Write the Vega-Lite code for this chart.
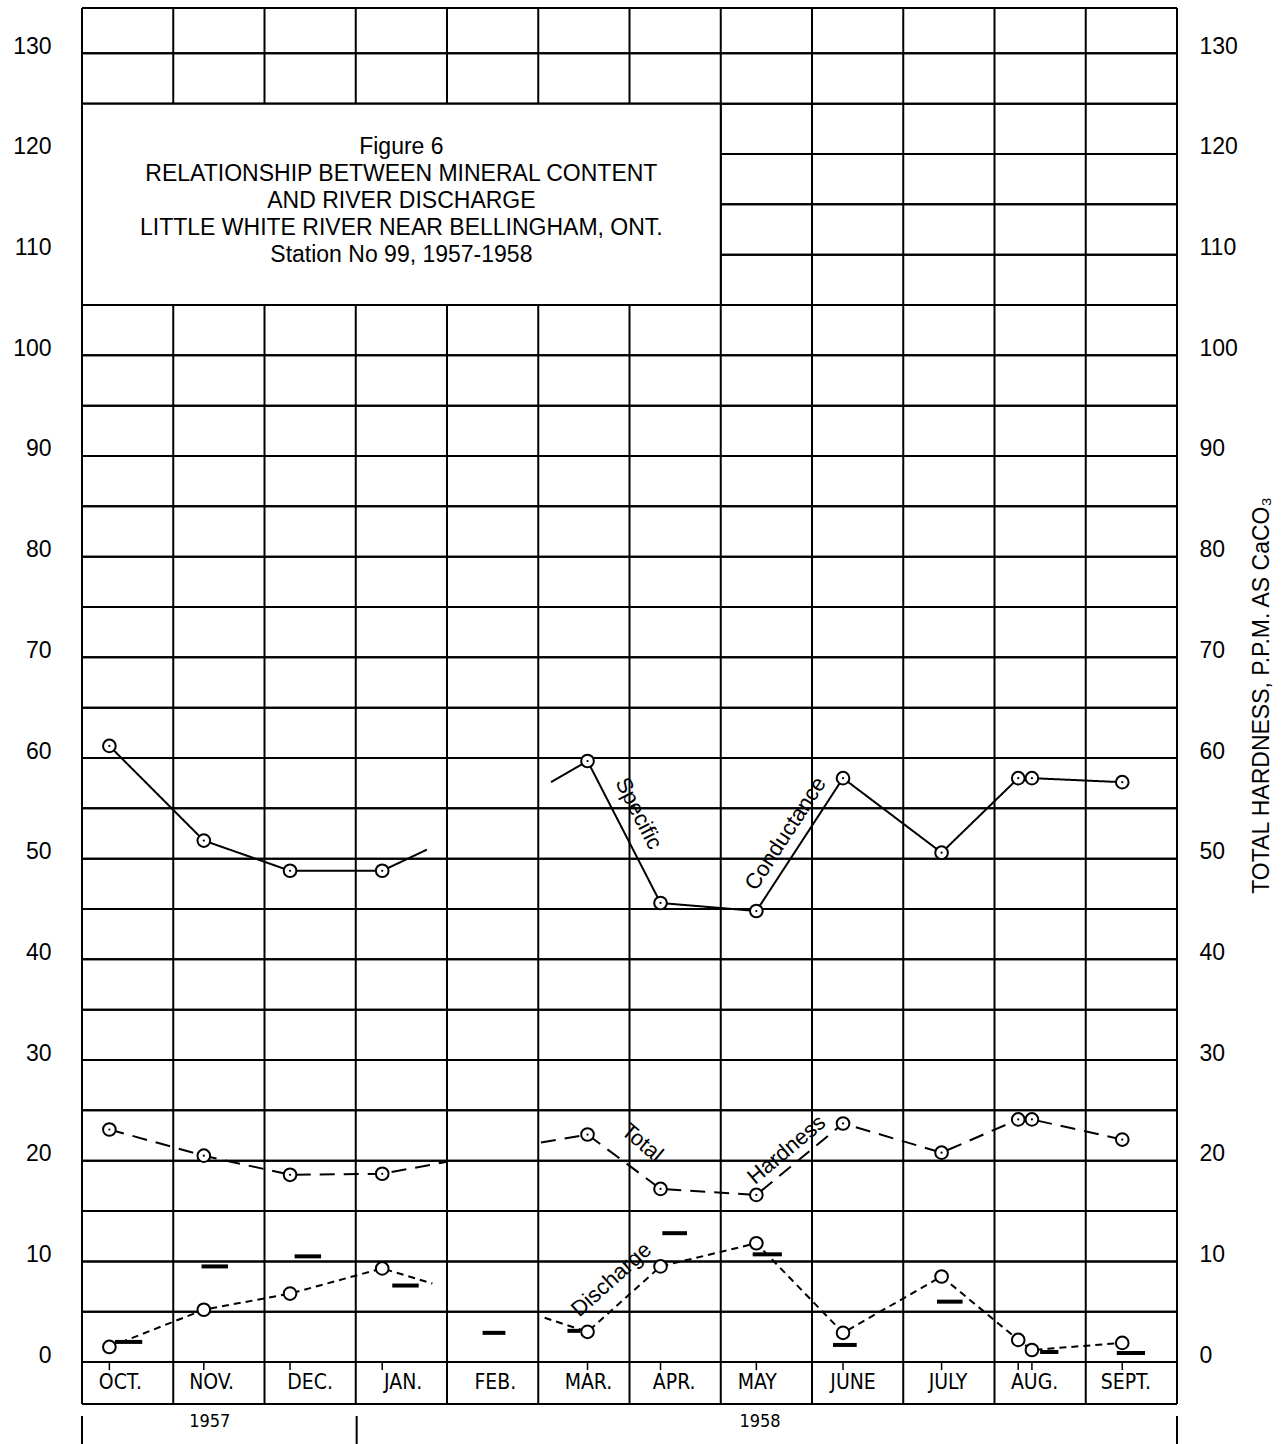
{
  "$schema": "https://vega.github.io/schema/vega-lite/v6.json",
  "width": 1095,
  "height": 1437,
  "autosize": {"type": "none"},
  "padding": {"left": 82, "top": 7, "right": 108, "bottom": 0},
  "background": "white",
  "config": {"view": {"stroke": null}, "font": "Liberation Sans"},
  "resolve": {"axis": {"y": "independent"}},
  "datasets": {
    "hlines": [
      {"v": -4.17}, {"v": 0}, {"v": 5}, {"v": 10}, {"v": 15}, {"v": 20}, {"v": 25}, {"v": 30}, {"v": 35}, {"v": 40},
      {"v": 45}, {"v": 50}, {"v": 55}, {"v": 60}, {"v": 65}, {"v": 70}, {"v": 75}, {"v": 80}, {"v": 85}, {"v": 90},
      {"v": 95}, {"v": 100}, {"v": 105}, {"v": 110}, {"v": 115}, {"v": 120}, {"v": 125}, {"v": 130}, {"v": 134.5}
    ],
    "vlines": [
      {"m": 0}, {"m": 1}, {"m": 2}, {"m": 3}, {"m": 4}, {"m": 5}, {"m": 6},
      {"m": 7}, {"m": 8}, {"m": 9}, {"m": 10}, {"m": 11}, {"m": 12}
    ],
    "obs": [
      {"series": "Specific conductance", "seg": "SC-A", "month": 0.3, "v": 61.2, "sampled": true},
      {"series": "Specific conductance", "seg": "SC-A", "month": 1.335, "v": 51.8, "sampled": true},
      {"series": "Specific conductance", "seg": "SC-A", "month": 2.28, "v": 48.8, "sampled": true},
      {"series": "Specific conductance", "seg": "SC-A", "month": 3.29, "v": 48.8, "sampled": true},
      {"series": "Specific conductance", "seg": "SC-A", "month": 3.78, "v": 50.9, "sampled": false},
      {"series": "Specific conductance", "seg": "SC-B", "month": 5.14, "v": 57.6, "sampled": false},
      {"series": "Specific conductance", "seg": "SC-B", "month": 5.54, "v": 59.7, "sampled": true},
      {"series": "Specific conductance", "seg": "SC-B", "month": 6.34, "v": 45.6, "sampled": true},
      {"series": "Specific conductance", "seg": "SC-B", "month": 7.39, "v": 44.8, "sampled": true},
      {"series": "Specific conductance", "seg": "SC-B", "month": 8.34, "v": 58.0, "sampled": true},
      {"series": "Specific conductance", "seg": "SC-B", "month": 9.42, "v": 50.6, "sampled": true},
      {"series": "Specific conductance", "seg": "SC-B", "month": 10.26, "v": 58.0, "sampled": true},
      {"series": "Specific conductance", "seg": "SC-B", "month": 10.41, "v": 58.0, "sampled": true},
      {"series": "Specific conductance", "seg": "SC-B", "month": 11.4, "v": 57.6, "sampled": true},
      {"series": "Total hardness", "seg": "TH-A", "month": 0.3, "v": 23.1, "sampled": true},
      {"series": "Total hardness", "seg": "TH-A", "month": 1.335, "v": 20.5, "sampled": true},
      {"series": "Total hardness", "seg": "TH-A", "month": 2.28, "v": 18.6, "sampled": true},
      {"series": "Total hardness", "seg": "TH-A", "month": 3.29, "v": 18.7, "sampled": true},
      {"series": "Total hardness", "seg": "TH-A", "month": 4.0, "v": 19.9, "sampled": false},
      {"series": "Total hardness", "seg": "TH-B", "month": 5.03, "v": 21.8, "sampled": false},
      {"series": "Total hardness", "seg": "TH-B", "month": 5.54, "v": 22.6, "sampled": true},
      {"series": "Total hardness", "seg": "TH-B", "month": 6.34, "v": 17.2, "sampled": true},
      {"series": "Total hardness", "seg": "TH-B", "month": 7.39, "v": 16.6, "sampled": true},
      {"series": "Total hardness", "seg": "TH-B", "month": 8.34, "v": 23.7, "sampled": true},
      {"series": "Total hardness", "seg": "TH-B", "month": 9.42, "v": 20.8, "sampled": true},
      {"series": "Total hardness", "seg": "TH-B", "month": 10.26, "v": 24.1, "sampled": true},
      {"series": "Total hardness", "seg": "TH-B", "month": 10.41, "v": 24.1, "sampled": true},
      {"series": "Total hardness", "seg": "TH-B", "month": 11.4, "v": 22.1, "sampled": true},
      {"series": "Discharge", "seg": "D-A", "month": 0.3, "v": 1.5, "sampled": true},
      {"series": "Discharge", "seg": "D-A", "month": 1.335, "v": 5.2, "sampled": true},
      {"series": "Discharge", "seg": "D-A", "month": 2.28, "v": 6.8, "sampled": true},
      {"series": "Discharge", "seg": "D-A", "month": 3.29, "v": 9.3, "sampled": true},
      {"series": "Discharge", "seg": "D-A", "month": 3.84, "v": 7.8, "sampled": false},
      {"series": "Discharge", "seg": "D-B", "month": 5.07, "v": 4.4, "sampled": false},
      {"series": "Discharge", "seg": "D-B", "month": 5.54, "v": 3.0, "sampled": true},
      {"series": "Discharge", "seg": "D-B", "month": 6.34, "v": 9.5, "sampled": true},
      {"series": "Discharge", "seg": "D-B", "month": 7.39, "v": 11.8, "sampled": true},
      {"series": "Discharge", "seg": "D-B", "month": 8.34, "v": 2.9, "sampled": true},
      {"series": "Discharge", "seg": "D-B", "month": 9.42, "v": 8.5, "sampled": true},
      {"series": "Discharge", "seg": "D-B", "month": 10.26, "v": 2.2, "sampled": true},
      {"series": "Discharge", "seg": "D-B", "month": 10.41, "v": 1.2, "sampled": true},
      {"series": "Discharge", "seg": "D-B", "month": 11.4, "v": 1.9, "sampled": true}
    ],
    "means": [
      {"start": 0.36, "end": 0.66, "v": 2.0},
      {"start": 1.31, "end": 1.6, "v": 9.5},
      {"start": 2.33, "end": 2.62, "v": 10.5},
      {"start": 3.4, "end": 3.69, "v": 7.6},
      {"start": 4.39, "end": 4.64, "v": 2.9},
      {"start": 5.32, "end": 5.46, "v": 3.1},
      {"start": 6.36, "end": 6.63, "v": 12.8},
      {"start": 7.35, "end": 7.67, "v": 10.7},
      {"start": 8.23, "end": 8.49, "v": 1.7},
      {"start": 9.37, "end": 9.65, "v": 6.0},
      {"start": 10.5, "end": 10.7, "v": 1.0},
      {"start": 11.34, "end": 11.65, "v": 0.9}
    ],
    "months": [
      {"name": "OCT.", "pos": 0.42}, {"name": "NOV.", "pos": 1.42}, {"name": "DEC.", "pos": 2.5},
      {"name": "JAN.", "pos": 3.52}, {"name": "FEB.", "pos": 4.53}, {"name": "MAR.", "pos": 5.55},
      {"name": "APR.", "pos": 6.49}, {"name": "MAY", "pos": 7.4}, {"name": "JUNE", "pos": 8.45},
      {"name": "JULY", "pos": 9.49}, {"name": "AUG.", "pos": 10.44}, {"name": "SEPT.", "pos": 11.44}
    ],
    "yearticks": [{"m": 0}, {"m": 3.01}, {"m": 12}],
    "years": [{"name": "1957", "pos": 1.4}, {"name": "1958", "pos": 7.43}]
  },
  "layer": [
    {
      "data": {"name": "hlines"},
      "mark": {"type": "rule", "stroke": "black", "strokeWidth": 2},
      "encoding": {
        "y": {
          "field": "v", "type": "quantitative",
          "scale": {"domain": [-8.14, 134.6], "nice": false, "zero": false},
          "axis": {
            "orient": "left", "values": [0, 10, 20, 30, 40, 50, 60, 70, 80, 90, 100, 110, 120, 130],
            "domain": false, "ticks": false, "tickSize": 0, "grid": false,
            "labelPadding": 31, "labelFontSize": 23, "labelBaseline": "alphabetic",
            "labelColor": "black", "labelFont": "Liberation Sans", "title": null
          }
        },
        "x": {"datum": 0, "type": "quantitative", "scale": {"domain": [0, 12], "nice": false, "zero": false}, "axis": null},
        "x2": {"datum": 12}
      }
    },
    {
      "data": {"name": "hlines"},
      "mark": {"type": "rule", "stroke": "black", "strokeWidth": 2},
      "encoding": {
        "y": {
          "field": "v", "type": "quantitative",
          "axis": {
            "orient": "right", "values": [0, 10, 20, 30, 40, 50, 60, 70, 80, 90, 100, 110, 120, 130],
            "domain": false, "ticks": false, "tickSize": 0, "grid": false,
            "labelPadding": 22, "labelFontSize": 23, "labelBaseline": "alphabetic",
            "labelColor": "black", "labelFont": "Liberation Sans",
            "title": "TOTAL HARDNESS, P.P.M. AS CaCO₃", "titleAngle": -90, "titleFontSize": 23,
            "titleFontWeight": "normal", "titleColor": "black", "titleFont": "Liberation Sans",
            "titlePadding": 36, "titleY": 688
          }
        },
        "x": {"datum": 0, "type": "quantitative", "axis": null},
        "x2": {"datum": 12}
      }
    },
    {
      "data": {"name": "vlines"},
      "mark": {"type": "rule", "stroke": "black", "strokeWidth": 2},
      "encoding": {
        "x": {"field": "m", "type": "quantitative", "axis": null},
        "y": {"datum": -4.17, "type": "quantitative", "axis": null},
        "y2": {"datum": 134.5}
      }
    },
    {
      "data": {"values": [{}]},
      "mark": {"type": "rect", "fill": "white", "stroke": "black", "strokeWidth": 2},
      "encoding": {
        "x": {"datum": 0, "type": "quantitative", "axis": null},
        "x2": {"datum": 7},
        "y": {"datum": 105, "type": "quantitative", "axis": null},
        "y2": {"datum": 125}
      }
    },
    {
      "data": {"values": [{}]},
      "mark": {
        "type": "text", "font": "Liberation Sans", "fontSize": 23, "lineHeight": 27,
        "align": "center", "baseline": "middle", "color": "black",
        "text": ["Figure 6", "RELATIONSHIP BETWEEN MINERAL CONTENT", "AND RIVER DISCHARGE", "LITTLE WHITE  RIVER  NEAR  BELLINGHAM, ONT.", "Station No 99, 1957-1958"]
      },
      "encoding": {
        "x": {"datum": 3.5, "type": "quantitative", "axis": null},
        "y": {"datum": 120.7, "type": "quantitative", "axis": null}
      }
    },
    {
      "data": {"name": "means"},
      "mark": {"type": "rule", "stroke": "black", "strokeWidth": 4},
      "encoding": {
        "x": {"field": "start", "type": "quantitative", "axis": null},
        "x2": {"field": "end"},
        "y": {"field": "v", "type": "quantitative", "axis": null}
      }
    },
    {
      "data": {"name": "obs"},
      "mark": {"type": "line", "stroke": "black", "strokeWidth": 2},
      "encoding": {
        "x": {"field": "month", "type": "quantitative", "axis": null},
        "y": {"field": "v", "type": "quantitative", "axis": null},
        "detail": {"field": "seg"},
        "strokeDash": {
          "field": "series", "type": "nominal",
          "scale": {"domain": ["Specific conductance", "Total hardness", "Discharge"], "range": [[1, 0], [15, 9], [7, 5]]},
          "legend": null
        }
      }
    },
    {
      "data": {"name": "obs"},
      "transform": [{"filter": "datum.sampled"}],
      "mark": {"type": "point", "shape": "circle", "size": 160, "filled": true, "fill": "white", "stroke": "black", "strokeWidth": 2, "opacity": 1},
      "encoding": {
        "x": {"field": "month", "type": "quantitative", "axis": null},
        "y": {"field": "v", "type": "quantitative", "axis": null}
      }
    },
    {
      "data": {"name": "obs"},
      "transform": [{"filter": "datum.sampled && datum.series !== 'Discharge'"}],
      "mark": {"type": "point", "shape": "circle", "size": 5, "filled": true, "fill": "black", "opacity": 1},
      "encoding": {
        "x": {"field": "month", "type": "quantitative", "axis": null},
        "y": {"field": "v", "type": "quantitative", "axis": null}
      }
    },
    {
      "data": {"name": "obs"},
      "transform": [{"filter": "datum.sampled && datum.series === 'Discharge'"}],
      "mark": {"type": "rule", "stroke": "black", "strokeWidth": 1.5},
      "encoding": {
        "x": {"field": "month", "type": "quantitative", "axis": null},
        "y": {"datum": 0, "type": "quantitative", "axis": null},
        "y2": {"datum": -0.8}
      }
    },
    {
      "data": {"name": "months"},
      "mark": {"type": "text", "font": "Liberation Sans Narrow, DejaVu Sans Condensed", "fontSize": 21, "align": "center", "baseline": "middle", "color": "black"},
      "encoding": {
        "x": {"field": "pos", "type": "quantitative", "axis": null},
        "y": {"datum": -2.1, "type": "quantitative", "axis": null},
        "text": {"field": "name"}
      }
    },
    {
      "data": {"name": "yearticks"},
      "mark": {"type": "rule", "stroke": "black", "strokeWidth": 2},
      "encoding": {
        "x": {"field": "m", "type": "quantitative", "axis": null},
        "y": {"datum": -5.36, "type": "quantitative", "axis": null},
        "y2": {"datum": -8.14}
      }
    },
    {
      "data": {"name": "years"},
      "mark": {"type": "text", "font": "Liberation Sans Narrow, DejaVu Sans Condensed", "fontSize": 18, "align": "center", "baseline": "middle", "color": "black"},
      "encoding": {
        "x": {"field": "pos", "type": "quantitative", "axis": null},
        "y": {"datum": -5.96, "type": "quantitative", "axis": null},
        "text": {"field": "name"}
      }
    },
    {
      "data": {"values": [{}]},
      "mark": {"type": "text", "text": "Specific", "font": "Liberation Sans", "fontSize": 22, "angle": 63, "align": "center", "baseline": "middle", "color": "black"},
      "encoding": {"x": {"datum": 6.1, "type": "quantitative", "axis": null}, "y": {"datum": 54.5, "type": "quantitative", "axis": null}}
    },
    {
      "data": {"values": [{}]},
      "mark": {"type": "text", "text": "Conductance", "font": "Liberation Sans", "fontSize": 22, "angle": -57, "align": "center", "baseline": "middle", "color": "black"},
      "encoding": {"x": {"datum": 7.71, "type": "quantitative", "axis": null}, "y": {"datum": 52.5, "type": "quantitative", "axis": null}}
    },
    {
      "data": {"values": [{}]},
      "mark": {"type": "text", "text": "Total", "font": "Liberation Sans", "fontSize": 22, "angle": 40, "align": "center", "baseline": "middle", "color": "black"},
      "encoding": {"x": {"datum": 6.14, "type": "quantitative", "axis": null}, "y": {"datum": 21.8, "type": "quantitative", "axis": null}}
    },
    {
      "data": {"values": [{}]},
      "mark": {"type": "text", "text": "Hardness", "font": "Liberation Sans", "fontSize": 22, "angle": -40, "align": "center", "baseline": "middle", "color": "black"},
      "encoding": {"x": {"datum": 7.72, "type": "quantitative", "axis": null}, "y": {"datum": 21.1, "type": "quantitative", "axis": null}}
    },
    {
      "data": {"values": [{}]},
      "mark": {"type": "text", "text": "Discharge", "font": "Liberation Sans", "fontSize": 22, "angle": -42, "align": "center", "baseline": "middle", "color": "black"},
      "encoding": {"x": {"datum": 5.8, "type": "quantitative", "axis": null}, "y": {"datum": 8.2, "type": "quantitative", "axis": null}}
    }
  ]
}
